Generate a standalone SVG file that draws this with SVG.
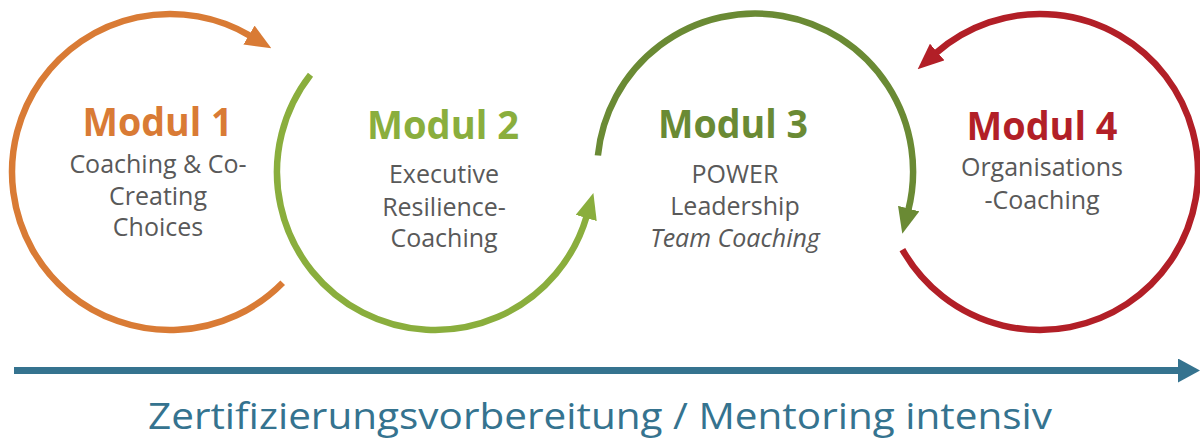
<svg xmlns="http://www.w3.org/2000/svg" width="1200" height="440" viewBox="0 0 1200 440">
<style>
.arc{fill:none;stroke-width:6.5;stroke-linecap:butt}
.head{font-family:"Open Sans","DejaVu Sans",sans-serif;font-weight:bold;font-size:39px;text-anchor:middle}
.body{font-family:"Open Sans","DejaVu Sans",sans-serif;font-size:25px;fill:#595959;text-anchor:middle}
.it{font-style:italic}
.bottom{font-family:"Open Sans","DejaVu Sans",sans-serif;font-size:37px;fill:#35738f;text-anchor:middle}
</style>
<defs>
<marker id="mOrange" markerUnits="userSpaceOnUse" markerWidth="26" markerHeight="22" viewBox="0 0 26 22" refX="2" refY="11" orient="auto"><path d="M0,0 L26,11 L0,22 z" fill="#d97b35"/></marker>
<marker id="mLight" markerUnits="userSpaceOnUse" markerWidth="26" markerHeight="22" viewBox="0 0 26 22" refX="2" refY="11" orient="auto"><path d="M0,0 L26,11 L0,22 z" fill="#8aae3d"/></marker>
<marker id="mDark" markerUnits="userSpaceOnUse" markerWidth="26" markerHeight="22" viewBox="0 0 26 22" refX="2" refY="11" orient="auto"><path d="M0,0 L26,11 L0,22 z" fill="#6a8a34"/></marker>
<marker id="mRed" markerUnits="userSpaceOnUse" markerWidth="26" markerHeight="22" viewBox="0 0 26 22" refX="2" refY="11" orient="auto"><path d="M0,0 L26,11 L0,22 z" fill="#b21f27"/></marker>
<marker id="mBlue" markerUnits="userSpaceOnUse" markerWidth="22" markerHeight="24" viewBox="0 0 22 24" refX="1" refY="12" orient="auto"><path d="M0,0 L22,12 L0,24 z" fill="#35738f"/></marker>
</defs>
<g id="connectors">
<path class="arc" stroke="#d97b35" d="M282.7,282.7 A158,158 0 1 1 250.7,36.1" marker-end="url(#mOrange)"/>
<path class="arc" stroke="#8aae3d" d="M310.5,74.7 A158,158 0 1 0 586.7,216.1" marker-end="url(#mLight)"/>
<path class="arc" stroke="#6a8a34" d="M597.9,155.5 A158,158 0 1 1 908.2,210.5" marker-end="url(#mDark)"/>
<path class="arc" stroke="#b21f27" d="M902.4,249.6 A158,158 0 1 0 935.7,53.3" marker-end="url(#mRed)"/>
<path d="M14,370.5 L1179,370.5" stroke="#35738f" stroke-width="7" fill="none" marker-end="url(#mBlue)"/>
</g>
<g id="modul1">
<text class="head" x="157.5" y="135.5" fill="#d97b35" textLength="150" lengthAdjust="spacingAndGlyphs">Modul 1</text>
<text class="body" x="158" y="172.5">Coaching &amp; Co-</text>
<text class="body" x="158" y="204.5">Creating</text>
<text class="body" x="158" y="236">Choices</text>
</g>
<g id="modul2">
<text class="head" x="443" y="139" fill="#8aae3d" textLength="152" lengthAdjust="spacingAndGlyphs">Modul 2</text>
<text class="body" x="444" y="183">Executive</text>
<text class="body" x="444" y="216">Resilience-</text>
<text class="body" x="444" y="247">Coaching</text>
</g>
<g id="modul3">
<text class="head" x="733" y="138" fill="#6a8a34" textLength="150" lengthAdjust="spacingAndGlyphs">Modul 3</text>
<text class="body" x="735" y="183">POWER</text>
<text class="body" x="735" y="215">Leadership</text>
<text class="body it" x="735" y="247">Team Coaching</text>
</g>
<g id="modul4">
<text class="head" x="1042" y="140" fill="#b21f27" textLength="151" lengthAdjust="spacingAndGlyphs">Modul 4</text>
<text class="body" x="1042" y="176">Organisations</text>
<text class="body" x="1042" y="209">-Coaching</text>
</g>
<g id="caption">
<text class="bottom" x="600" y="429" textLength="904" lengthAdjust="spacingAndGlyphs">Zertifizierungsvorbereitung / Mentoring intensiv</text>
</g>
</svg>
